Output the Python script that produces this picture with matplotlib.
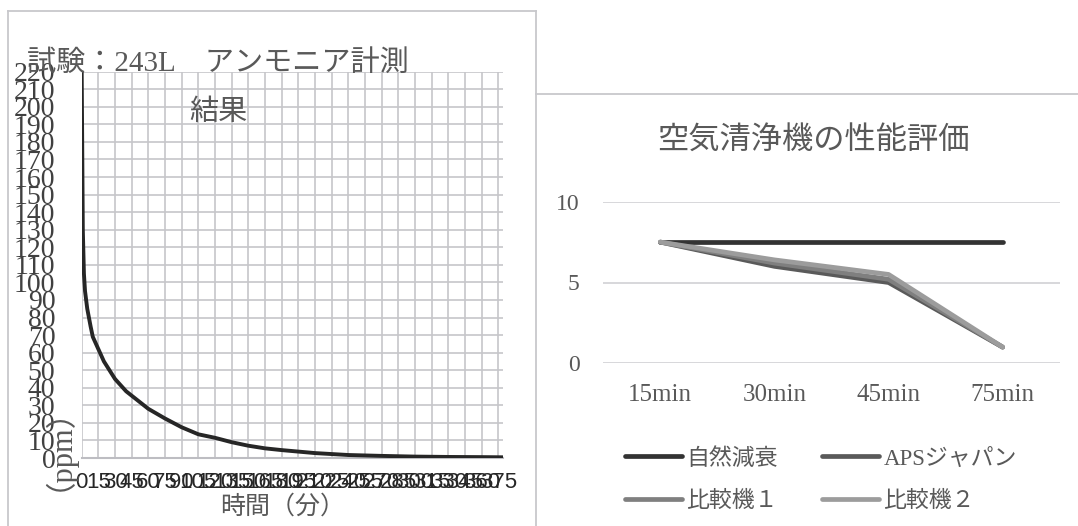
import matplotlib
matplotlib.use('Agg')
import matplotlib.pyplot as plt
from matplotlib.lines import Line2D

plt.rcParams['font.family'] = ['Liberation Serif', 'Noto Sans CJK JP', 'DejaVu Sans']

# left chart: ammonia decay (minutes -> ppm)
minutes = [0, 1, 2, 3, 5, 8, 10, 15, 20, 30, 40, 50, 60, 75, 90, 105, 120, 135,
           150, 165, 180, 210, 240, 270, 300, 330, 360, 379]
ammonia_ppm = [220, 130, 105, 95, 85, 75, 69, 62, 55, 45, 38, 33, 28, 22.5, 17.5,
               13.5, 11.5, 9, 7, 5.5, 4.5, 2.8, 1.7, 1.2, 0.8, 0.6, 0.5, 0.4]
left_title = '試験：243L　アンモニア計測\n結果'
left_xlabel = '時間（分）'
left_ylabel = '（ppm）'

# right chart: air purifier comparison
categories = ['15min', '30min', '45min', '75min']
series_names = ['自然減衰', 'APSジャパン', '比較機１', '比較機２']
natural = [7.5, 7.5, 7.5, 7.5]
aps = [7.5, 6.0, 5.0, 1.0]
comp1 = [7.5, 6.2, 5.2, 1.0]
comp2 = [7.5, 6.4, 5.5, 1.0]
right_title = '空気清浄機の性能評価'

W, H = 1078, 526
TXT = '#595959'
GRID = '#c6c6ca'


def fx(px):
    return px / W


def fy(py):
    return 1 - py / H


fig = plt.figure(figsize=(W / 100, H / 100), dpi=100)

# chart frames
frame = '#c8c8cc'
for xs, ys in [([7.5, 7.5], [11, 526]), ([7.5, 536], [11, 11]),
               ([536, 536], [11, 526]), ([536, 1078], [94, 94])]:
    fig.add_artist(Line2D([fx(x) for x in xs], [fy(y) for y in ys],
                          color=frame, lw=1.3))

# ---------------- left chart ----------------
ax1 = fig.add_axes([fx(81.7), fy(458), fx(502.7) - fx(81.7), fy(71.7) - fy(458)])
ax1.plot(minutes, ammonia_ppm, color='#262626', lw=2.8, solid_capstyle='round',
         zorder=3)
ax1.set_xlim(0, 379)
ax1.set_ylim(0, 220)
ax1.set_xticks(range(0, 376, 15))
ax1.set_yticks(range(0, 221, 10))
ax1.grid(True, color=GRID, lw=1.2)
ax1.set_axisbelow(True)
for s in ['top', 'right', 'left']:
    ax1.spines[s].set_visible(False)
ax1.spines['bottom'].set_color('#bdbdc2')
ax1.spines['bottom'].set_linewidth(1.5)
ax1.tick_params(axis='y', length=0, pad=19, labelsize=20, labelcolor='#404040')
ax1.tick_params(axis='x', length=0, pad=10, labelsize=16, labelcolor='#262626')
for lab in ax1.get_xticklabels():
    lab.set_family(['Liberation Sans Narrow', 'Liberation Sans'])

fig.text(fx(218), fy(88), left_title, ha='center', va='center', fontsize=21,
         color=TXT, linespacing=2.1)
fig.text(fx(283), fy(507), left_xlabel, ha='center', va='center', fontsize=18,
         color=TXT)
fig.text(fx(42), fy(433), left_ylabel, ha='center', va='center', fontsize=22,
         color=TXT, rotation=90)

# ---------------- right chart ----------------
ax2 = fig.add_axes([fx(603.3), fy(363.3), fx(1059.7) - fx(603.3), fy(201.7) - fy(363.3)])
colors = ['#333333', '#5a5a5a', '#7f7f7f', '#9c9c9c']
lines = []
for name, vals, c in zip(series_names, [natural, aps, comp1, comp2], colors):
    ln, = ax2.plot(categories, vals, color=c, lw=3.4, solid_capstyle='round',
                   solid_joinstyle='round', label=name)
    lines.append(ln)
ax2.set_xlim(-0.5, 3.5)
ax2.set_ylim(0, 10)
ax2.set_yticks([0, 5, 10])
ax2.grid(True, axis='y', color='#d4d4d8', lw=1.3)
ax2.set_axisbelow(True)
for s in ax2.spines.values():
    s.set_visible(False)
ax2.tick_params(axis='y', length=0, pad=17, labelsize=17, labelcolor=TXT)
ax2.tick_params(axis='x', length=0, pad=15, labelsize=18, labelcolor=TXT)

fig.text(fx(813), fy(141), right_title, ha='center', va='center', fontsize=22.5,
         color=TXT)

# legend fills row by row in the reference
order = [0, 2, 1, 3]
fig.legend([lines[i] for i in order], [series_names[i] for i in order],
           loc='upper left', bbox_to_anchor=(fx(604), fy(427)), ncol=2,
           frameon=False, fontsize=16.5, labelcolor=TXT, handlelength=2.5,
           handletextpad=0.2, columnspacing=1.9, labelspacing=0.92)

fig.savefig('out.png', dpi=100)
